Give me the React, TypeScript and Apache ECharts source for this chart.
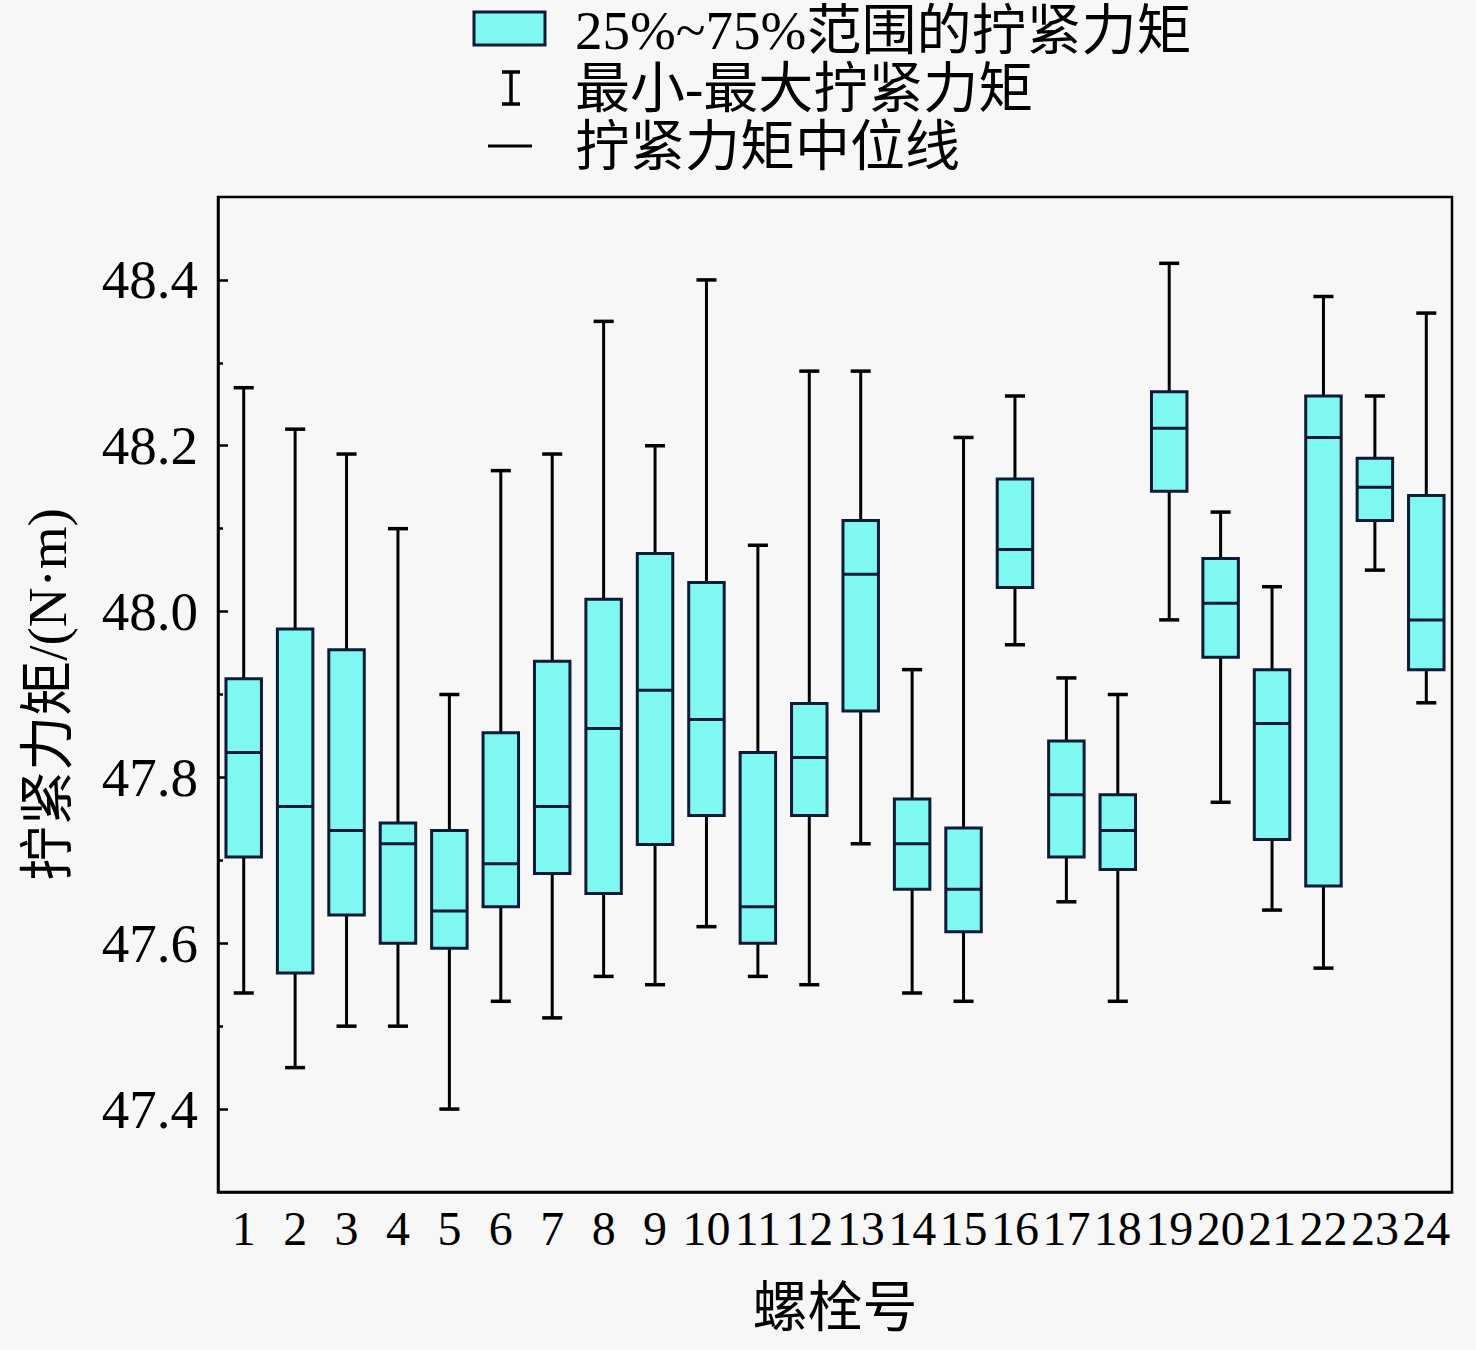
import React, { useEffect, useRef } from "react";
import * as echarts from "echarts";

const categories = ["1","2","3","4","5","6","7","8","9","10","11","12","13","14","15","16","17","18","19","20","21","22","23","24"];
const minValues = [47.54,47.45,47.50,47.50,47.40,47.53,47.51,47.56,47.55,47.62,47.56,47.55,47.72,47.54,47.53,47.96,47.65,47.53,47.99,47.77,47.64,47.57,48.05,47.89];
const q1Values = [47.704,47.564,47.634,47.60,47.594,47.644,47.684,47.66,47.719,47.754,47.60,47.754,47.88,47.665,47.614,48.029,47.704,47.689,48.145,47.945,47.725,47.669,48.11,47.93];
const medianValues = [47.83,47.765,47.736,47.72,47.639,47.696,47.765,47.859,47.905,47.87,47.644,47.824,48.045,47.72,47.665,48.075,47.779,47.736,48.221,48.01,47.865,48.21,48.15,47.99];
const q3Values = [47.919,47.979,47.954,47.745,47.736,47.854,47.94,48.015,48.07,48.035,47.83,47.889,48.11,47.774,47.739,48.16,47.844,47.779,48.265,48.064,47.93,48.26,48.185,48.14];
const maxValues = [48.27,48.22,48.19,48.10,47.90,48.17,48.19,48.35,48.20,48.40,48.08,48.29,48.29,47.93,48.21,48.26,47.92,47.90,48.42,48.12,48.03,48.38,48.26,48.36];
const majorTicks = [47.4,47.6,47.8,48.0,48.2,48.4];
const minorTicks = [47.5,47.7,47.9,48.1,48.3];
const legendLabels = ["25%~75%范围的拧紧力矩","最小-最大拧紧力矩","拧紧力矩中位线"];

const FONT = "'Liberation Serif', 'Times New Roman', 'Noto Sans CJK SC', serif";
const FILL = "#7ef8f0";
const EDGE = "#0d1b36";

export default function App() {
  const ref = useRef<HTMLDivElement>(null);
  useEffect(() => {
    if (!ref.current) return;
    const chart = echarts.init(ref.current, null, { renderer: "svg" });
    const data = categories.map((_, i) => [i, minValues[i], q1Values[i], medianValues[i], q3Values[i], maxValues[i]]);
    const option: any = {
      animation: false,
      backgroundColor: "#f7f7f7",
      grid: { left: 218, right: 24, top: 197, bottom: 158, show: true, borderColor: "#000", borderWidth: 2.5, backgroundColor: "transparent" },
      xAxis: {
        type: "category",
        data: categories,
        boundaryGap: true,
        name: "螺栓号",
        nameLocation: "middle",
        nameGap: 88,
        nameTextStyle: { fontFamily: FONT, fontSize: 55, color: "#000" },
        axisLine: { lineStyle: { color: "#000", width: 2.5 } },
        axisTick: { inside: true, length: 14, alignWithLabel: true, lineStyle: { color: "#000", width: 2.5 } },
        axisLabel: { interval: 0, fontFamily: FONT, fontSize: 48, color: "#000", margin: 12 },
        splitLine: { show: false },
      },
      yAxis: [
        {
          type: "value",
          min: 47.3,
          max: 48.5,
          name: "拧紧力矩/(N·m)",
          nameLocation: "middle",
          nameGap: 143,
          nameTextStyle: { fontFamily: FONT, fontSize: 55, color: "#000" },
          axisLine: { show: true, lineStyle: { color: "#000", width: 2.5 } },
          axisTick: { show: true, inside: true, length: 10, customValues: majorTicks, lineStyle: { color: "#000", width: 2.5 } },
          axisLabel: { customValues: majorTicks, fontFamily: FONT, fontSize: 55, color: "#000", margin: 20, formatter: (v: number) => v.toFixed(1) },
          splitLine: { show: false },
        },
        {
          type: "value",
          min: 47.3,
          max: 48.5,
          position: "left",
          axisLine: { show: false },
          axisTick: { show: true, inside: true, length: 5, customValues: minorTicks, lineStyle: { color: "#000", width: 2.5 } },
          axisLabel: { show: false },
          splitLine: { show: false },
        },
      ],
      series: [
        {
          type: "custom",
          data,
          encode: { x: 0, y: [1, 2, 3, 4, 5] },
          renderItem: (params: any, api: any) => {
            const idx = api.value(0);
            const pMin = api.coord([idx, api.value(1)]);
            const pQ1 = api.coord([idx, api.value(2)]);
            const pMed = api.coord([idx, api.value(3)]);
            const pQ3 = api.coord([idx, api.value(4)]);
            const pMax = api.coord([idx, api.value(5)]);
            const band = api.size([1, 0])[0];
            const bw = band * 0.69;
            const cw = band * 0.39;
            const x = pMed[0];
            const ls = { stroke: "#000", lineWidth: 3 };
            return {
              type: "group",
              children: [
                { type: "line", shape: { x1: x, y1: pMax[1], x2: x, y2: pQ3[1] }, style: ls },
                { type: "line", shape: { x1: x, y1: pQ1[1], x2: x, y2: pMin[1] }, style: ls },
                { type: "line", shape: { x1: x - cw / 2, y1: pMax[1], x2: x + cw / 2, y2: pMax[1] }, style: { stroke: "#000", lineWidth: 3.5 } },
                { type: "line", shape: { x1: x - cw / 2, y1: pMin[1], x2: x + cw / 2, y2: pMin[1] }, style: { stroke: "#000", lineWidth: 3.5 } },
                { type: "rect", shape: { x: x - bw / 2, y: pQ3[1], width: bw, height: pQ1[1] - pQ3[1] }, style: { fill: FILL, stroke: EDGE, lineWidth: 3 } },
                { type: "line", shape: { x1: x - bw / 2, y1: pMed[1], x2: x + bw / 2, y2: pMed[1] }, style: { stroke: EDGE, lineWidth: 3 } },
              ],
            };
          },
        },
      ],
      graphic: [
        { type: "rect", shape: { x: 474, y: 12, width: 71, height: 33 }, style: { fill: FILL, stroke: EDGE, lineWidth: 3 } },
        { type: "line", shape: { x1: 511, y1: 72, x2: 511, y2: 104 }, style: { stroke: "#000", lineWidth: 3.5 } },
        { type: "line", shape: { x1: 502, y1: 72, x2: 520, y2: 72 }, style: { stroke: "#000", lineWidth: 3.5 } },
        { type: "line", shape: { x1: 502, y1: 104, x2: 520, y2: 104 }, style: { stroke: "#000", lineWidth: 3.5 } },
        { type: "line", shape: { x1: 488, y1: 146, x2: 532, y2: 146 }, style: { stroke: "#000", lineWidth: 3 } },
        { type: "text", x: 575, y: 30, style: { text: legendLabels[0], font: `55px ${FONT}`, fill: "#000", verticalAlign: "middle" } },
        { type: "text", x: 575, y: 88, style: { text: legendLabels[1], font: `55px ${FONT}`, fill: "#000", verticalAlign: "middle" } },
        { type: "text", x: 575, y: 146, style: { text: legendLabels[2], font: `55px ${FONT}`, fill: "#000", verticalAlign: "middle" } },
      ],
    };
    chart.setOption(option);
    return () => chart.dispose();
  }, []);
  return <div ref={ref} style={{ position: "fixed", left: 0, top: 0, width: 1476, height: 1350 }} />;
}
